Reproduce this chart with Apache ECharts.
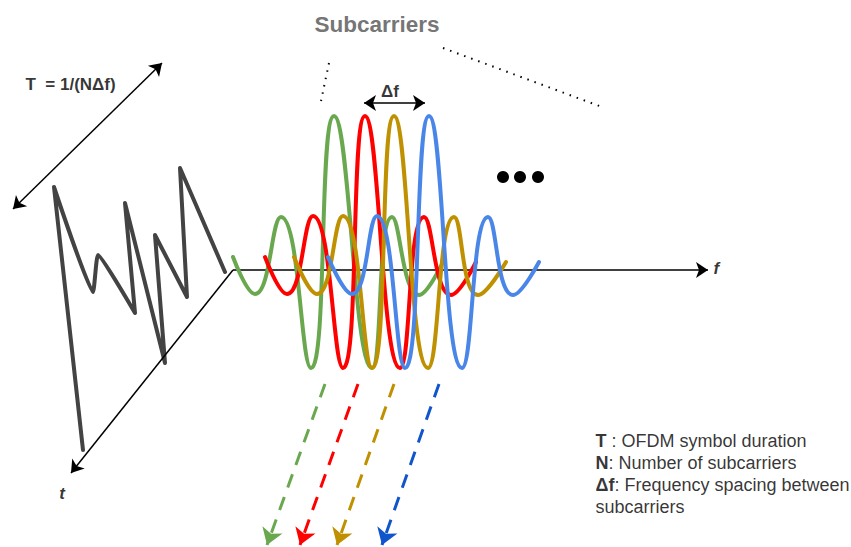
<!DOCTYPE html>
<html>
<head>
<meta charset="utf-8">
<script src="https://cdn.jsdelivr.net/npm/echarts@6/dist/echarts.min.js"></script>
<style>html,body{margin:0;padding:0;background:#fff;}#c{width:851px;height:547px;}</style>
</head>
<body>
<div id="c"></div>
<script>
// ---- data (diagram units) ----
const subcarrierGreen = [[233,257],[255,294],[281,217],[311,368],[334,116],[372,368],[392,217],[419,295],[443,262]];
const subcarrierRed   = [[265,257],[287,294],[313,216],[343,368],[365,116],[400,368],[424,217],[451,295],[476,262]];
const subcarrierGold  = [[294,257],[317,294],[343,216],[372,368],[394,116],[428,368],[454,217],[478,295],[506,262]];
const subcarrierBlue  = [[328,257],[352,294],[377,216],[405,368],[429,116],[462,368],[488,217],[513,295],[539,262]];
const timeSignal = [[83,450],[54,187],[93,292],[98,255],[135,313],[125,203],[165,363],[155,235],[187,297],[180,168],[225,272]];

const fAxisLine = [[233,270],[708,270]];
const tAxisLine = [[233,270],[71,473]];
const periodArrow = [[13,209],[162,63]];
const spacingArrow = [[364,103],[425,103]];
const dottedLeft = [[329,63],[321,101]];
const dottedRight = [[443,48],[602,107]];
const dashedGreen = [[325,384],[267,545]];
const dashedRed   = [[358,384],[300,545]];
const dashedGold  = [[394,384],[337,545]];
const dashedBlue  = [[439,384],[382,545]];
const ellipsisDots = [[503,177],[520,177],[538,177]];

const titleText = 'Subcarriers';
const periodText = 'T  = 1/(NΔf)';
const spacingText = 'Δf';
const legendLines = [
  ['T', ' : OFDM symbol duration'],
  ['N', ': Number of subcarriers'],
  ['Δf', ': Frequency spacing between'],
  ['', 'subcarriers']
];

const FONT = '"Liberation Sans", Arial, Helvetica, sans-serif';

function curve(name, data, color, smooth) {
  return {
    name: name, type: 'line', data: data, smooth: smooth, symbol: 'none', silent: true,
    lineStyle: { color: color, width: 4, cap: 'round', join: 'round' }, z: 3
  };
}
function lines(data, color, width, type, symbol, size, z) {
  return {
    type: 'lines', coordinateSystem: 'cartesian2d', silent: true, z: z || 4,
    symbol: symbol, symbolSize: size,
    lineStyle: { color: color, width: width, type: type, opacity: 1, cap: 'butt' },
    data: [{ coords: data }]
  };
}
function textItem(pos, text, opts) {
  return {
    value: pos,
    label: Object.assign({ show: true, formatter: text, fontFamily: FONT, color: '#000' }, opts)
  };
}

const textData = [
  textItem([377, 24], titleText, { position: 'inside', fontSize: 22.5, fontWeight: 'bold', color: '#505050' }),
  textItem([25, 84], periodText, { position: 'right', distance: 0, fontSize: 17, fontWeight: 'bold' }),
  textItem([390, 91], spacingText, { position: 'inside', fontSize: 17, fontWeight: 'bold' }),
  textItem([713, 268], 'f', { position: 'right', distance: 0, fontSize: 17, fontWeight: 'bold', fontStyle: 'italic' }),
  textItem([62, 493], 't', { position: 'inside', fontSize: 17, fontWeight: 'bold', fontStyle: 'italic' })
];
legendLines.forEach(function (l, i) {
  textData.push({
    value: [595, 441 + i * 22],
    label: {
      show: true, position: 'right', distance: 0,
      formatter: (l[0] ? '{b|' + l[0] + '}' : '') + '{n|' + l[1] + '}',
      rich: {
        b: { fontFamily: FONT, fontSize: 18, fontWeight: 'bold', color: '#000' },
        n: { fontFamily: FONT, fontSize: 18, color: '#000' }
      }
    }
  });
});

const chart = echarts.init(document.getElementById('c'), null, { renderer: 'svg' });
chart.setOption({
  animation: false,
  backgroundColor: '#fff',
  grid: { left: 0, right: 0, top: 0, bottom: 0 },
  xAxis: { type: 'value', min: 0, max: 851, show: false },
  yAxis: { type: 'value', min: 0, max: 547, inverse: true, show: false },
  series: [
    curve('time', timeSignal, '#434343', 0.12),
    lines(fAxisLine, '#000', 1.5, 'solid', ['none', 'arrow'], 12, 2),
    lines(tAxisLine, '#000', 1.5, 'solid', ['none', 'arrow'], 12, 4),
    lines(periodArrow, '#000', 1.5, 'solid', ['arrow', 'arrow'], 12, 4),
    lines(spacingArrow, '#000', 1.5, 'solid', ['arrow', 'arrow'], 12, 4),
    lines(dottedLeft, '#000', 2, [1.5, 6], ['none', 'none'], 1, 4),
    lines(dottedRight, '#000', 2, [1.5, 6], ['none', 'none'], 1, 4),
    curve('green', subcarrierGreen, '#6aa84f', 0.5),
    curve('red', subcarrierRed, '#ff0000', 0.5),
    curve('gold', subcarrierGold, '#bf9000', 0.5),
    curve('blue', subcarrierBlue, '#4a86e8', 0.5),
    lines(dashedGreen, '#6aa84f', 3, [14, 10], ['none', 'arrow'], 16, 4),
    lines(dashedRed, '#ff0000', 3, [14, 10], ['none', 'arrow'], 16, 4),
    lines(dashedGold, '#bf9000', 3, [14, 10], ['none', 'arrow'], 16, 4),
    lines(dashedBlue, '#1155cc', 3, [14, 10], ['none', 'arrow'], 16, 4),
    {
      type: 'scatter', data: ellipsisDots, symbol: 'circle', symbolSize: 12, silent: true,
      itemStyle: { color: '#000', opacity: 1 }, z: 5
    },
    {
      type: 'scatter', data: textData, symbolSize: 1, silent: true,
      itemStyle: { color: 'rgba(0,0,0,0)' }, z: 6
    }
  ]
});
</script>
</body>
</html>
